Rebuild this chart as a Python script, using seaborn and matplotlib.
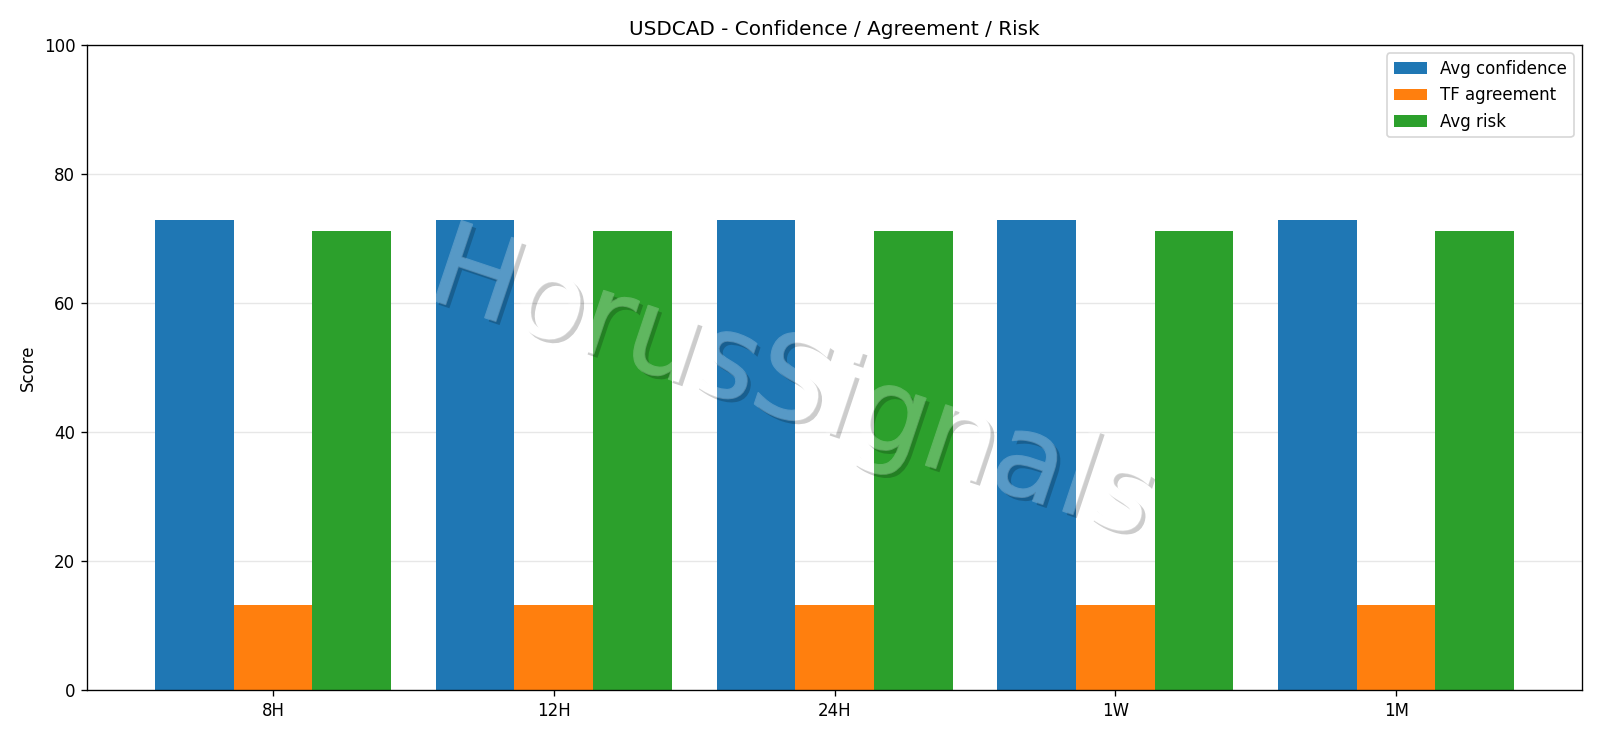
import matplotlib
matplotlib.use("Agg")
import numpy as np
import matplotlib.pyplot as plt
import matplotlib.patheffects as pe
from matplotlib.path import Path
from matplotlib.transforms import IdentityTransform, TransformedPath
import seaborn as sns
import pandas as pd

timeframes = ["8H", "12H", "24H", "1W", "1M"]
avg_confidence = [72.8, 72.8, 72.8, 72.8, 72.8]
tf_agreement = [13.2, 13.2, 13.2, 13.2, 13.2]
avg_risk = [71.1, 71.1, 71.1, 71.1, 71.1]
series_names = ["Avg confidence", "TF agreement", "Avg risk"]
colors = ["#1f77b4", "#ff7f0e", "#2ca02c"]

rows = []
for name, vals in zip(series_names, [avg_confidence, tf_agreement, avg_risk]):
    for tf, v in zip(timeframes, vals):
        rows.append({"Timeframe": tf, "Metric": name, "Score": v})
df = pd.DataFrame(rows)

plt.rcParams["font.family"] = ["DejaVu Sans"]


def _area(p):
    x, y = p[:, 0], p[:, 1]
    return 0.5 * np.sum(x * np.roll(y, -1) - np.roll(x, -1) * y)


class ShadowedWatermark(pe.AbstractPathEffect):
    """Drop shadow hidden under the glyphs, plus glyphs slightly emboldened."""

    def __init__(self, offset=(2.3, -2.3), color=(0, 0, 0), alpha=0.2, bolden=0.9):
        super().__init__(offset)
        self._color = color
        self._salpha = alpha
        self._bolden = bolden

    def draw_path(self, renderer, gc, tpath, affine, rgbFace=None):
        disp = affine.transform_path(tpath)
        polys = disp.to_polygons(closed_only=True)
        W, H = renderer.get_canvas_width_height()
        rect = np.array([[-20, -20], [W + 20, -20], [W + 20, H + 20],
                         [-20, H + 20], [-20, -20]], float)
        if polys:
            big = max(polys, key=lambda p: abs(_area(p)))
            if np.sign(_area(rect)) == np.sign(_area(big)):
                rect = rect[::-1].copy()
        clip = TransformedPath(Path.make_compound_path(Path(rect, closed=True), disp),
                               IdentityTransform())

        gs = renderer.new_gc()
        gs.copy_properties(gc)
        gs.set_clip_path(clip)
        gs.set_foreground("none")
        gs.set_alpha(self._salpha)
        gs.set_linewidth(0)
        renderer.draw_path(gs, tpath, affine + self._offset_transform(renderer),
                           self._color)
        gs.restore()

        renderer.draw_path(gc, tpath, affine, rgbFace)

        if self._bolden > 0 and rgbFace is not None:
            gb = renderer.new_gc()
            gb.copy_properties(gc)
            gb.set_clip_path(clip)
            gb.set_foreground(rgbFace[:3])
            gb.set_alpha(gc.get_alpha())
            gb.set_linewidth(self._bolden)
            gb.set_joinstyle("round")
            renderer.draw_path(gb, tpath, affine, None)
            gb.restore()


fig = plt.figure(figsize=(1600 / 120, 738 / 120), dpi=120)
ax = fig.add_axes([0.0544, 0.065, 0.9344, 0.874])
sns.barplot(data=df, x="Timeframe", y="Score", hue="Metric", order=timeframes,
            hue_order=series_names, palette=colors, saturation=1, width=0.84,
            gap=0, ax=ax, errorbar=None, linewidth=0)

ax.set_ylim(0, 100)
ax.set_xlim(-0.662, 4.662)
ax.set_xlabel("")
ax.set_ylabel("Score")
ax.set_title("USDCAD - Confidence / Agreement / Risk")
ax.set_yticks([0, 20, 40, 60, 80, 100])
ax.yaxis.grid(True, color="#b0b0b0", linewidth=0.8, alpha=0.3)
ax.xaxis.grid(False)
ax.set_axisbelow(True)

ax.legend(loc="upper right", title=None)

fig.text(0.4952, 0.476, "HorusSignals", fontsize=69.5, color="white", alpha=0.25,
         rotation=-18.5, ha="center", va="center", zorder=10,
         path_effects=[ShadowedWatermark(offset=(2.3, -2.3), alpha=0.2, bolden=0.9)])

fig.savefig("out.png", dpi=120)
